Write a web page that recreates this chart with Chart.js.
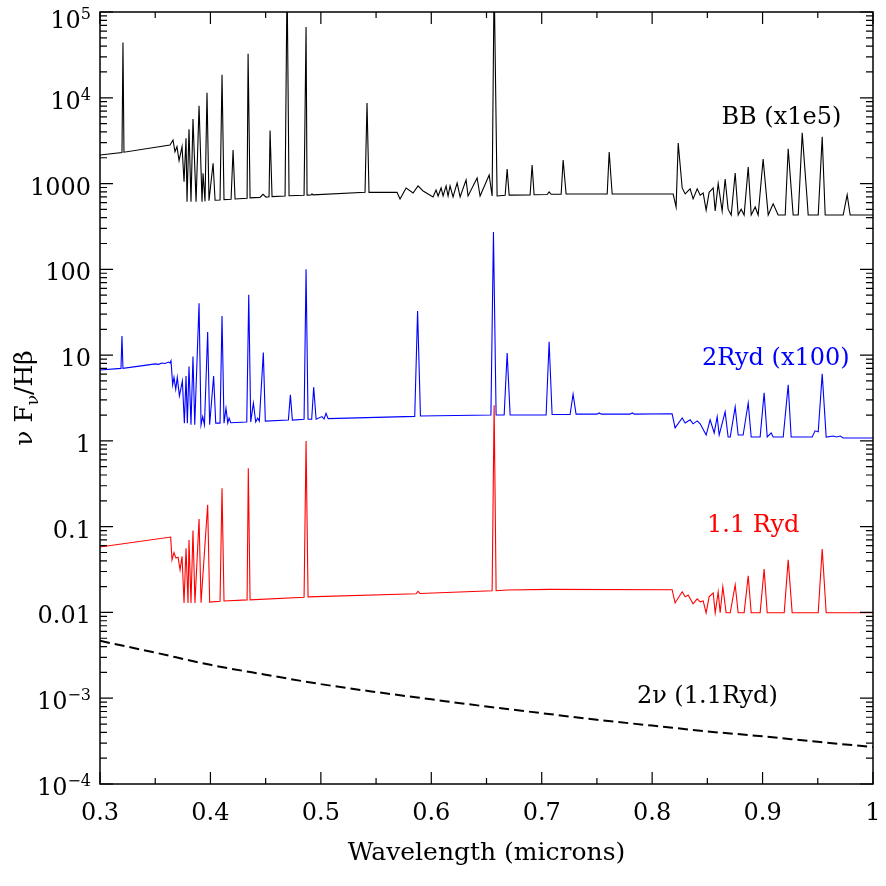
<!DOCTYPE html>
<html lang="en">
<head>
<meta charset="UTF-8">
<title>Spectra</title>
<script src="https://cdn.jsdelivr.net/npm/chart.js"></script>
<style>
    body { margin: 0; padding: 0; background: #fff; }
    #chart { display: block; }
</style>
</head>
<body>
<canvas id="chart" width="886" height="886"></canvas>
<script>
// --- data (wavelength in microns, nu F_nu / H-beta) ---
const bbWave = [0.300, 0.3199, 0.3208, 0.3217, 0.3634, 0.3661, 0.3679, 0.3697, 0.3716, 0.3743,
    0.3761, 0.3779, 0.3788, 0.3806, 0.3824, 0.3842, 0.3870, 0.3897, 0.3924, 0.3933,
    0.3951, 0.3969, 0.3987, 0.4024, 0.4042, 0.4087, 0.4105, 0.4123, 0.4187, 0.4205,
    0.4223, 0.4332, 0.4341, 0.4359, 0.4449, 0.4476, 0.4504, 0.4531, 0.4540, 0.4558,
    0.4676, 0.4694, 0.4712, 0.4848, 0.4866, 0.4875, 0.4911, 0.4920, 0.4929, 0.5400,
    0.5418, 0.5436, 0.5690, 0.5717, 0.5772, 0.5835, 0.5880, 0.5926, 0.6016, 0.6043,
    0.6062, 0.6089, 0.6107, 0.6134, 0.6152, 0.6170, 0.6197, 0.6234, 0.6261, 0.6315,
    0.6333, 0.6415, 0.6442, 0.6524, 0.6551, 0.6569, 0.6596, 0.6669, 0.6687, 0.6705,
    0.6895, 0.6913, 0.6931, 0.7049, 0.7067, 0.7085, 0.7176, 0.7194, 0.7221, 0.7593,
    0.7611, 0.7638, 0.8190, 0.8217, 0.8236, 0.8272, 0.8299, 0.8344, 0.8371, 0.8408,
    0.8435, 0.8462, 0.8489, 0.8516, 0.8553, 0.8571, 0.8598, 0.8634, 0.8661, 0.8688,
    0.8716, 0.8752, 0.8779, 0.8806, 0.8833, 0.8870, 0.8897, 0.8933, 0.8960, 0.9005,
    0.9051, 0.9096, 0.9141, 0.9205, 0.9232, 0.9277, 0.9323, 0.9359, 0.9404, 0.9413,
    0.9504, 0.9540, 0.9567, 0.9730, 0.9766, 0.9793, 1.000];
const bbFlux = [2150, 2300, 44000, 2320, 2820, 3220, 2350, 2690, 1850, 2690,
    1050, 3370, 615, 4300, 615, 5660, 615, 8090, 615, 1320,
    620, 11460, 630, 1725, 640, 644, 18500, 650, 656, 2465,
    660, 675, 32500, 680, 690, 750, 695, 700, 4140, 705,
    716, 250000, 720, 730, 66800, 733, 735, 760, 738, 790,
    8700, 790, 790, 662, 889, 777, 938, 820, 698, 842,
    716, 889, 716, 938, 716, 938, 698, 1016, 698, 1102,
    716, 1162, 716, 1259, 716, 250000, 716, 730, 1479, 733,
    738, 1648, 740, 745, 800, 750, 752, 1884, 755, 756,
    2335, 757, 757, 533, 2970, 889, 757, 867, 662, 867,
    733, 777, 490, 790, 889, 479, 1000, 479, 1132, 503,
    430, 1330, 430, 503, 430, 1560, 430, 533, 430, 1930,
    430, 580, 430, 430, 2540, 430, 430, 3900, 640, 430,
    430, 3500, 430, 430, 740, 430, 430];

const ryd2Wave = [0.300, 0.3190, 0.3199, 0.3208, 0.3406, 0.3500, 0.3530, 0.3560, 0.3590, 0.3620,
    0.3634, 0.3643, 0.3658, 0.3670, 0.3686, 0.3700, 0.3719, 0.3746, 0.3764, 0.3779,
    0.3791, 0.3806, 0.3824, 0.3842, 0.3858, 0.3897, 0.3915, 0.3930, 0.3946, 0.3975,
    0.3993, 0.4029, 0.4048, 0.4087, 0.4105, 0.4123, 0.4141, 0.4157, 0.4169, 0.4184,
    0.4329, 0.4347, 0.4365, 0.4389, 0.4410, 0.4428, 0.4443, 0.4479, 0.4497, 0.4706,
    0.4724, 0.4742, 0.4848, 0.4866, 0.4884, 0.4917, 0.4935, 0.4957, 0.5010, 0.5029,
    0.5047, 0.5066, 0.5850, 0.5876, 0.5902, 0.6540, 0.6563, 0.6587, 0.6660, 0.6687,
    0.6714, 0.7040, 0.7067, 0.7094, 0.7257, 0.7284, 0.7311, 0.7500, 0.7520, 0.7540,
    0.7800, 0.7820, 0.7840, 0.8181, 0.8208, 0.8272, 0.8299, 0.8344, 0.8371, 0.8408,
    0.8435, 0.8489, 0.8525, 0.8562, 0.8589, 0.8607, 0.8661, 0.8688, 0.8707, 0.8752,
    0.8779, 0.8824, 0.8870, 0.8897, 0.8978, 0.9014, 0.9042, 0.9078, 0.9096, 0.9187,
    0.9232, 0.9259, 0.9449, 0.9476, 0.9504, 0.9540, 0.9576, 0.9640, 0.9670, 0.9703,
    0.9730, 1.000];
const ryd2Flux = [6.7, 7.0, 16.7, 7.0, 7.6, 7.9, 7.8, 8.1, 8.0, 8.3,
    8.1, 8.6, 4.5, 5.5, 4.0, 5.5, 3.35, 5.0, 1.61, 5.7,
    1.61, 7.35, 1.54, 9.6, 1.54, 40.3, 1.54, 1.92, 1.54, 18.6,
    1.54, 5.7, 1.61, 1.61, 28.6, 1.61, 2.4, 1.61, 1.84, 1.63,
    1.66, 50.4, 1.66, 2.75, 1.66, 1.84, 1.70, 10.7, 1.70, 1.75,
    3.44, 1.75, 1.79, 100, 1.79, 1.79, 4.23, 1.79, 1.92, 1.80,
    2.1, 1.82, 1.93, 32.7, 1.95, 2.0, 273, 2.0, 2.0, 10.6,
    2.0, 2.0, 14.3, 2.03, 2.03, 3.5, 2.05, 2.05, 2.12, 2.05,
    2.05, 2.12, 2.05, 2.07, 1.42, 1.85, 1.62, 1.76, 1.58, 1.71,
    1.58, 1.17, 1.76, 1.24, 1.91, 1.17, 2.18, 1.11, 1.11, 2.49,
    1.17, 1.17, 2.77, 1.11, 1.11, 3.63, 1.11, 1.24, 1.11, 1.11,
    4.5, 1.11, 1.11, 1.31, 1.28, 6.04, 1.11, 1.14, 1.11, 1.14,
    1.08, 1.08];

const ryd11Wave = [0.300, 0.3640, 0.3652, 0.3670, 0.3688, 0.3707, 0.3725, 0.3743, 0.3761, 0.3779,
    0.3797, 0.3806, 0.3824, 0.3842, 0.3860, 0.3897, 0.3915, 0.3975, 0.3993, 0.4087,
    0.4105, 0.4123, 0.4332, 0.4343, 0.4359, 0.4848, 0.4866, 0.4884, 0.5862, 0.5880,
    0.5899, 0.6551, 0.6569, 0.6587, 0.6687, 0.7067, 0.8181, 0.8208, 0.8272, 0.8299,
    0.8326, 0.8371, 0.8408, 0.8435, 0.8462, 0.8489, 0.8516, 0.8553, 0.8571, 0.8598,
    0.8616, 0.8640, 0.8670, 0.8707, 0.8752, 0.8779, 0.8833, 0.8870, 0.8897, 0.8978,
    0.9014, 0.9042, 0.9196, 0.9232, 0.9268, 0.9504, 0.9540, 0.9576, 1.000];
const ryd11Flux = [0.058, 0.0757, 0.041, 0.050, 0.043, 0.044, 0.0314, 0.045, 0.0129, 0.056,
    0.0129, 0.070, 0.0129, 0.090, 0.0129, 0.123, 0.0130, 0.18, 0.0132, 0.0135,
    0.28, 0.0136, 0.0140, 0.48, 0.0140, 0.0150, 1.0, 0.0152, 0.0165, 0.0176,
    0.0166, 0.0179, 2.6, 0.0179, 0.0183, 0.0186, 0.0184, 0.0129, 0.0174, 0.0152,
    0.0160, 0.0126, 0.0144, 0.0133, 0.0136, 0.0099, 0.0152, 0.0169, 0.0099, 0.0174,
    0.0099, 0.0199, 0.0099, 0.0099, 0.021, 0.0099, 0.0099, 0.0267, 0.0099, 0.0099,
    0.032, 0.0099, 0.0099, 0.041, 0.0099, 0.0099, 0.055, 0.0099, 0.0099];

const twoNuWave = [0.30, 0.35, 0.40, 0.45, 0.50, 0.55, 0.60, 0.65, 0.70, 0.75, 0.80, 0.85, 0.90, 0.95, 1.00];
const twoNuFlux = [0.00467, 0.0034, 0.00245, 0.00188, 0.00146, 0.00118, 0.00097, 0.00080,
    0.00067, 0.00056, 0.00048, 0.00041, 0.00036, 0.00031, 0.00027];

const xTicks = [0.3, 0.4, 0.5, 0.6, 0.7, 0.8, 0.9, 1.0];
const xTickLabels = ['0.3', '0.4', '0.5', '0.6', '0.7', '0.8', '0.9', '1'];
const yTicks = [1e5, 1e4, 1e3, 1e2, 10, 1, 0.1, 0.01, 1e-3, 1e-4];
const yTickLabels = [['10', '5'], ['10', '4'], ['1000', ''], ['100', ''], ['10', ''], ['1', ''],
    ['0.1', ''], ['0.01', ''], ['10', '\u22123'], ['10', '\u22124']];

// curve labels: text, colour, wavelength (centre), value (baseline)
const curveLabels = [
    ['BB (x1e5)', '#000000', 0.917, 5000],
    ['2Ryd (x100)', '#0000ff', 0.912, 7.7],
    ['1.1 Ryd', '#ff0000', 0.8915, 0.087],
    ['2\u03bd (1.1Ryd)', '#000000', 0.850, 0.00088]
];

const serif = "'DejaVu Serif', serif";

function pts(w, f) {
    return w.map((x, i) => ({ x: x, y: f[i] }));
}

// frame, inward ticks, tick labels, titles and curve labels
const framePlugin = {
    id: 'frame',
    afterDatasetsDraw(chart) {
        const { ctx, chartArea: a, scales: { x, y } } = chart;
        ctx.save();
        ctx.strokeStyle = '#000';
        ctx.lineWidth = 1.5;
        ctx.strokeRect(a.left, a.top, a.right - a.left, a.bottom - a.top);

        ctx.lineWidth = 1.2;
        ctx.beginPath();
        // x ticks (major + minor), bottom and top
        for (let v = 0.3; v <= 1.0001; v += 0.05) {
            const px = x.getPixelForValue(v);
            const major = Math.abs(v * 10 - Math.round(v * 10)) < 1e-6;
            const len = major ? 12 : 6;
            ctx.moveTo(px, a.bottom); ctx.lineTo(px, a.bottom - len);
            ctx.moveTo(px, a.top); ctx.lineTo(px, a.top + len);
        }
        // y ticks, left and right
        for (let d = -4; d <= 5; d++) {
            for (let m = 1; m <= 9; m++) {
                const v = m * Math.pow(10, d);
                if (v > 1e5 * 1.0001) break;
                const py = y.getPixelForValue(v);
                const len = m === 1 ? 13 : 7;
                ctx.moveTo(a.left, py); ctx.lineTo(a.left + len, py);
                ctx.moveTo(a.right, py); ctx.lineTo(a.right - len, py);
            }
        }
        ctx.stroke();

        ctx.fillStyle = '#000';
        // x tick labels
        ctx.font = '24px ' + serif;
        ctx.textAlign = 'center';
        ctx.textBaseline = 'alphabetic';
        xTicks.forEach((v, i) => {
            ctx.fillText(xTickLabels[i], x.getPixelForValue(v), a.bottom + 36);
        });

        // y tick labels with superscripts
        yTicks.forEach((v, i) => {
            const [base, sup] = yTickLabels[i];
            const py = Math.max(y.getPixelForValue(v) + 11, a.top + 16);
            let right = a.left - 9;
            ctx.textAlign = 'right';
            if (sup) {
                ctx.font = '16px ' + serif;
                ctx.fillText(sup, right, py - 9);
                right -= ctx.measureText(sup).width;
            }
            ctx.font = '24px ' + serif;
            ctx.fillText(base, right, py);
        });

        // x title
        ctx.font = '25px ' + serif;
        ctx.textAlign = 'center';
        ctx.fillText('Wavelength (microns)', (a.left + a.right) / 2, a.bottom + 76);

        // y title: nu F_nu / H-beta
        ctx.save();
        ctx.translate(32, (a.top + a.bottom) / 2);
        ctx.rotate(-Math.PI / 2);
        const big = '25px ' + serif, small = '17px ' + serif;
        const parts = [['\u03bd F', big, 0], ['\u03bd', small, 6], ['/H\u03b2', big, 0]];
        let total = 0;
        parts.forEach(p => { ctx.font = p[1]; total += ctx.measureText(p[0]).width; });
        let cx = -total / 2;
        ctx.textAlign = 'left';
        parts.forEach(p => {
            ctx.font = p[1];
            ctx.fillText(p[0], cx, p[2]);
            cx += ctx.measureText(p[0]).width;
        });
        ctx.restore();

        // curve labels
        ctx.font = '24px ' + serif;
        ctx.textAlign = 'center';
        curveLabels.forEach(([t, c, lx, ly]) => {
            ctx.fillStyle = c;
            ctx.fillText(t, x.getPixelForValue(lx), y.getPixelForValue(ly));
        });
        ctx.restore();
    }
};

new Chart(document.getElementById('chart'), {
    type: 'line',
    data: {
        datasets: [
            { label: 'BB (x1e5)', data: pts(bbWave, bbFlux), borderColor: '#000000', borderWidth: 1.1 },
            { label: '2Ryd (x100)', data: pts(ryd2Wave, ryd2Flux), borderColor: '#0000ff', borderWidth: 1.1 },
            { label: '1.1 Ryd', data: pts(ryd11Wave, ryd11Flux), borderColor: '#ff0000', borderWidth: 1.1 },
            { label: '2nu (1.1Ryd)', data: pts(twoNuWave, twoNuFlux), borderColor: '#000000', borderWidth: 2,
              borderDash: [10, 5], cubicInterpolationMode: 'monotone' }
        ]
    },
    options: {
        responsive: false,
        animation: false,
        layout: { padding: { left: 100, right: 13, top: 12, bottom: 102 } },
        elements: { point: { radius: 0 }, line: { tension: 0, fill: false } },
        plugins: { legend: { display: false }, tooltip: { enabled: false } },
        scales: {
            x: { type: 'linear', min: 0.3, max: 1.0, display: false },
            y: { type: 'logarithmic', min: 1e-4, max: 1e5, display: false }
        }
    },
    plugins: [framePlugin]
});
</script>
</body>
</html>
